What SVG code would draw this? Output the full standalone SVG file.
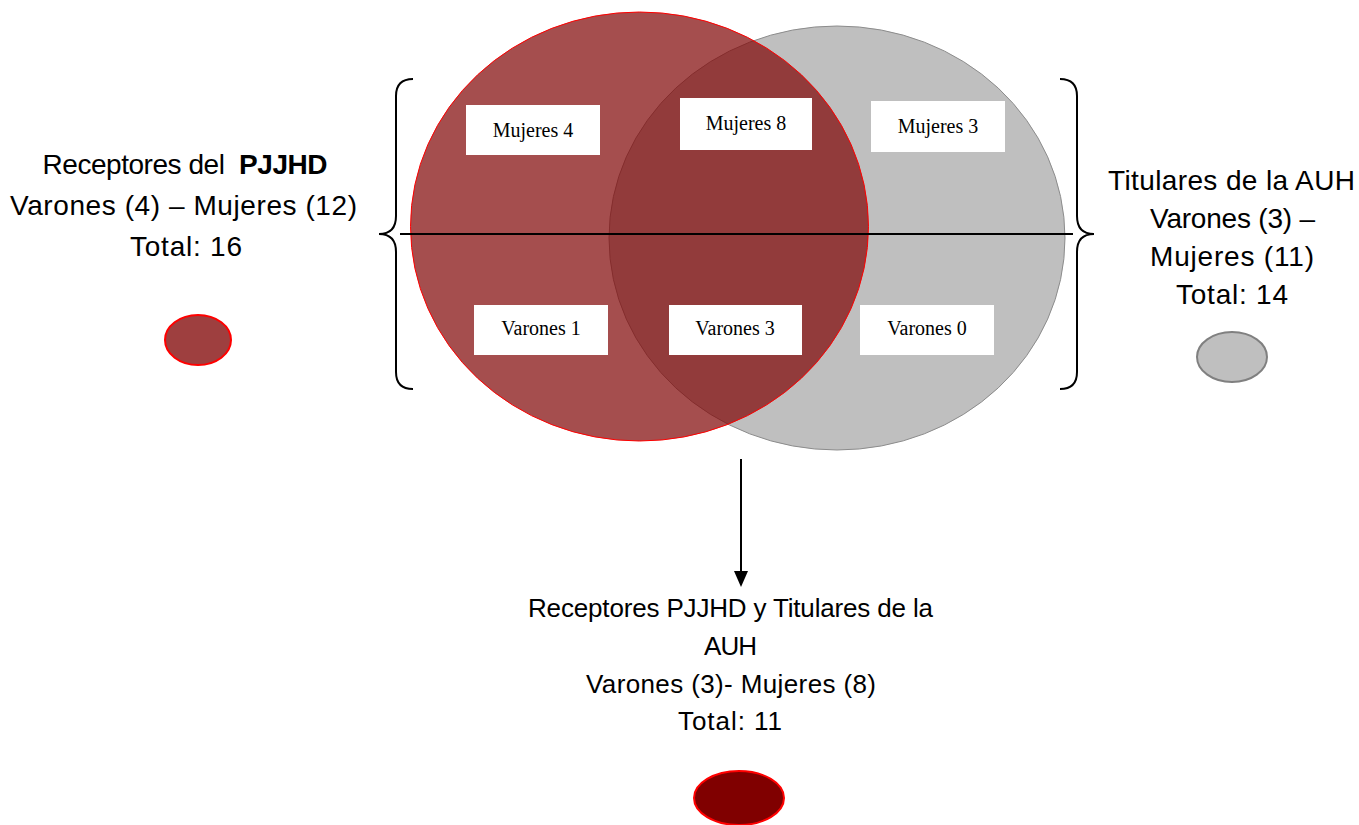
<svg xmlns="http://www.w3.org/2000/svg" width="1359" height="825" viewBox="0 0 1359 825">
<defs>
<style>
.lbl{font-family:"Liberation Sans",Arial,sans-serif;font-size:28px;fill:#000;text-anchor:middle;white-space:pre}
.lbs{font-size:26px}
.box{fill:#fff}
.bt{font-family:"Liberation Serif","Times New Roman",serif;font-size:20px;fill:#000;text-anchor:middle}
.brace{fill:none;stroke:#000;stroke-width:2}
</style>
</defs>
<rect width="1359" height="825" fill="#fff"/>
<g id="circle-auh"><ellipse cx="837" cy="238" rx="228" ry="212" fill="#bfbfbf" stroke="#8c8c8c" stroke-width="1"/></g>
<g id="circle-pjjhd"><ellipse cx="639.5" cy="226.5" rx="229" ry="214.5" fill="#800606" fill-opacity="0.71" stroke="#ff0000" stroke-width="1"/></g>
<g id="connectors">
<line x1="400" y1="234" x2="1073" y2="234" stroke="#000" stroke-width="2"/>
<path class="brace" d="M413,79 Q396,79 396,96 L396,216 Q396,234 379,234 Q396,234 396,252 L396,372 Q396,389 413,389"/>
<path class="brace" d="M1060,79 Q1077,79 1077,96 L1077,216 Q1077,234 1094,234 Q1077,234 1077,252 L1077,372 Q1077,389 1060,389"/>
<line x1="741" y1="459" x2="741" y2="572" stroke="#000" stroke-width="2"/>
<path d="M734,571 L748,571 L741,587 Z" fill="#000"/>
</g>
<g id="box-m4"><rect class="box" x="466" y="105" width="134" height="50"/><text class="bt" x="533" y="137">Mujeres 4</text></g>
<g id="box-m8"><rect class="box" x="680" y="98" width="132" height="52"/><text class="bt" x="746" y="130">Mujeres 8</text></g>
<g id="box-m3"><rect class="box" x="871" y="101" width="134" height="51"/><text class="bt" x="938" y="133">Mujeres 3</text></g>
<g id="box-v1"><rect class="box" x="474" y="305" width="134" height="50"/><text class="bt" x="541" y="335">Varones 1</text></g>
<g id="box-v3"><rect class="box" x="669" y="305" width="133" height="50"/><text class="bt" x="735" y="335">Varones 3</text></g>
<g id="box-v0"><rect class="box" x="860" y="305" width="134" height="50"/><text class="bt" x="927" y="335">Varones 0</text></g>
<g id="label-pjjhd">
<text class="lbl" x="185" y="174" textLength="285" lengthAdjust="spacing">Receptores del  <tspan font-weight="bold">PJJHD</tspan></text>
<text class="lbl" x="183.5" y="215" textLength="347" lengthAdjust="spacing">Varones (4) – Mujeres (12)</text>
<text class="lbl" x="186" y="256" textLength="112" lengthAdjust="spacing">Total: 16</text>
</g>
<g id="legend-pjjhd"><ellipse cx="198" cy="340" rx="33" ry="25" fill="#9e3f3f" stroke="#ff0000" stroke-width="2"/></g>
<g id="label-auh">
<text class="lbl" x="1231.5" y="190" textLength="247" lengthAdjust="spacing">Titulares de la AUH</text>
<text class="lbl" x="1232.5" y="228" textLength="165" lengthAdjust="spacing">Varones (3) –</text>
<text class="lbl" x="1232" y="266" textLength="164" lengthAdjust="spacing">Mujeres (11)</text>
<text class="lbl" x="1232" y="304" textLength="112" lengthAdjust="spacing">Total: 14</text>
</g>
<g id="legend-auh"><ellipse cx="1232" cy="357" rx="35" ry="25" fill="#bfbfbf" stroke="#808080" stroke-width="2"/></g>
<g id="label-both">
<text class="lbl lbs" x="730.5" y="617" textLength="405" lengthAdjust="spacing">Receptores PJJHD y Titulares de la</text>
<text class="lbl lbs" x="730.5" y="655" textLength="53" lengthAdjust="spacing">AUH</text>
<text class="lbl lbs" x="731" y="693" textLength="290" lengthAdjust="spacing">Varones (3)- Mujeres (8)</text>
<text class="lbl lbs" x="730" y="730" textLength="104" lengthAdjust="spacing">Total: 11</text>
</g>
<g id="legend-both"><ellipse cx="739" cy="798" rx="45" ry="27" fill="#800000" stroke="#ff0000" stroke-width="2"/></g>
</svg>
